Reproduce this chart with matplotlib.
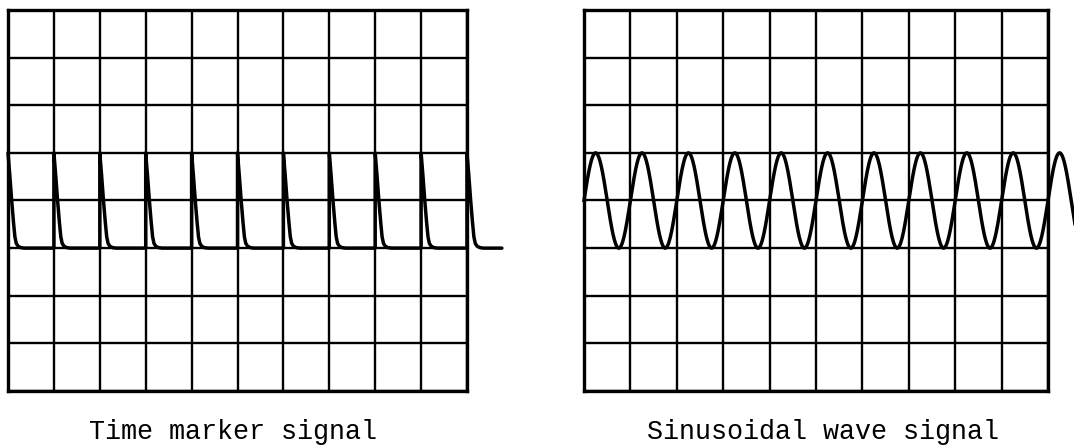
import numpy as np
import matplotlib
matplotlib.use("Agg")
import matplotlib.pyplot as plt

# Graticule size (divisions)
n_cols = 10
n_rows = 8

# Time marker signal: one pulse at each horizontal division
marker_positions = [0, 1, 2, 3, 4, 5, 6, 7, 8, 9, 10]
marker_base = 3.0
marker_peak = 5.0
# decay after each sharp rise: offset (div) and fraction of pulse height
pulse_decay_t = [0.0, 0.04, 0.08, 0.12, 0.15, 0.18, 0.22, 0.28, 0.36]
pulse_decay_frac = [1.0, 0.76, 0.50, 0.27, 0.12, 0.05, 0.02, 0.005, 0.0]
marker_tail_end = 10.76

# Sinusoidal wave signal
sine_center = 4.0
sine_amplitude = 1.0
sine_cycles_per_div = 1.0
sine_end = 10.6

titles = ["Time marker signal", "Sinusoidal wave signal"]

W, H = 1074, 448
fig = plt.figure(figsize=(W / 100, H / 100), dpi=100)
fig.patch.set_facecolor("white")


def make_screen(x0, x1, y0, y1):
    ax = fig.add_axes([x0 / W, (H - y1) / H, (x1 - x0) / W, (y1 - y0) / H])
    ax.set_xlim(0, n_cols)
    ax.set_ylim(0, n_rows)
    ax.set_xticks(range(n_cols + 1))
    ax.set_yticks(range(n_rows + 1))
    ax.tick_params(length=0, labelbottom=False, labelleft=False)
    ax.grid(True, color="black", linewidth=1.7)
    ax.set_axisbelow(True)
    for sp in ax.spines.values():
        sp.set_linewidth(2.4)
        sp.set_color("black")
    return ax


ax1 = make_screen(8, 467, 10, 391)
ax2 = make_screen(584, 1048, 10, 391)

# Build the pulse train
xs, ys = [], []
amp = marker_peak - marker_base
for k in marker_positions:
    if k > marker_positions[0]:
        xs.append(k)
        ys.append(marker_base)
    for t, f in zip(pulse_decay_t, pulse_decay_frac):
        xs.append(k + t)
        ys.append(marker_base + f * amp)
xs.append(marker_tail_end)
ys.append(marker_base)
ax1.plot(xs, ys, color="black", linewidth=2.5, clip_on=False,
         solid_joinstyle="round", solid_capstyle="round")

# Sinusoid
sx = np.linspace(0, sine_end, 1200)
sy = sine_center + sine_amplitude * np.sin(2 * np.pi * sine_cycles_per_div * sx)
ax2.plot(sx, sy, color="black", linewidth=2.5, clip_on=False)

font = dict(family="Liberation Mono", fontsize=19.3, color="black",
            ha="center", va="baseline")
fig.text(233 / W, 9 / H, titles[0], **font)
fig.text(823 / W, 9 / H, titles[1], **font)

fig.savefig("out.png", dpi=100, facecolor="white")
